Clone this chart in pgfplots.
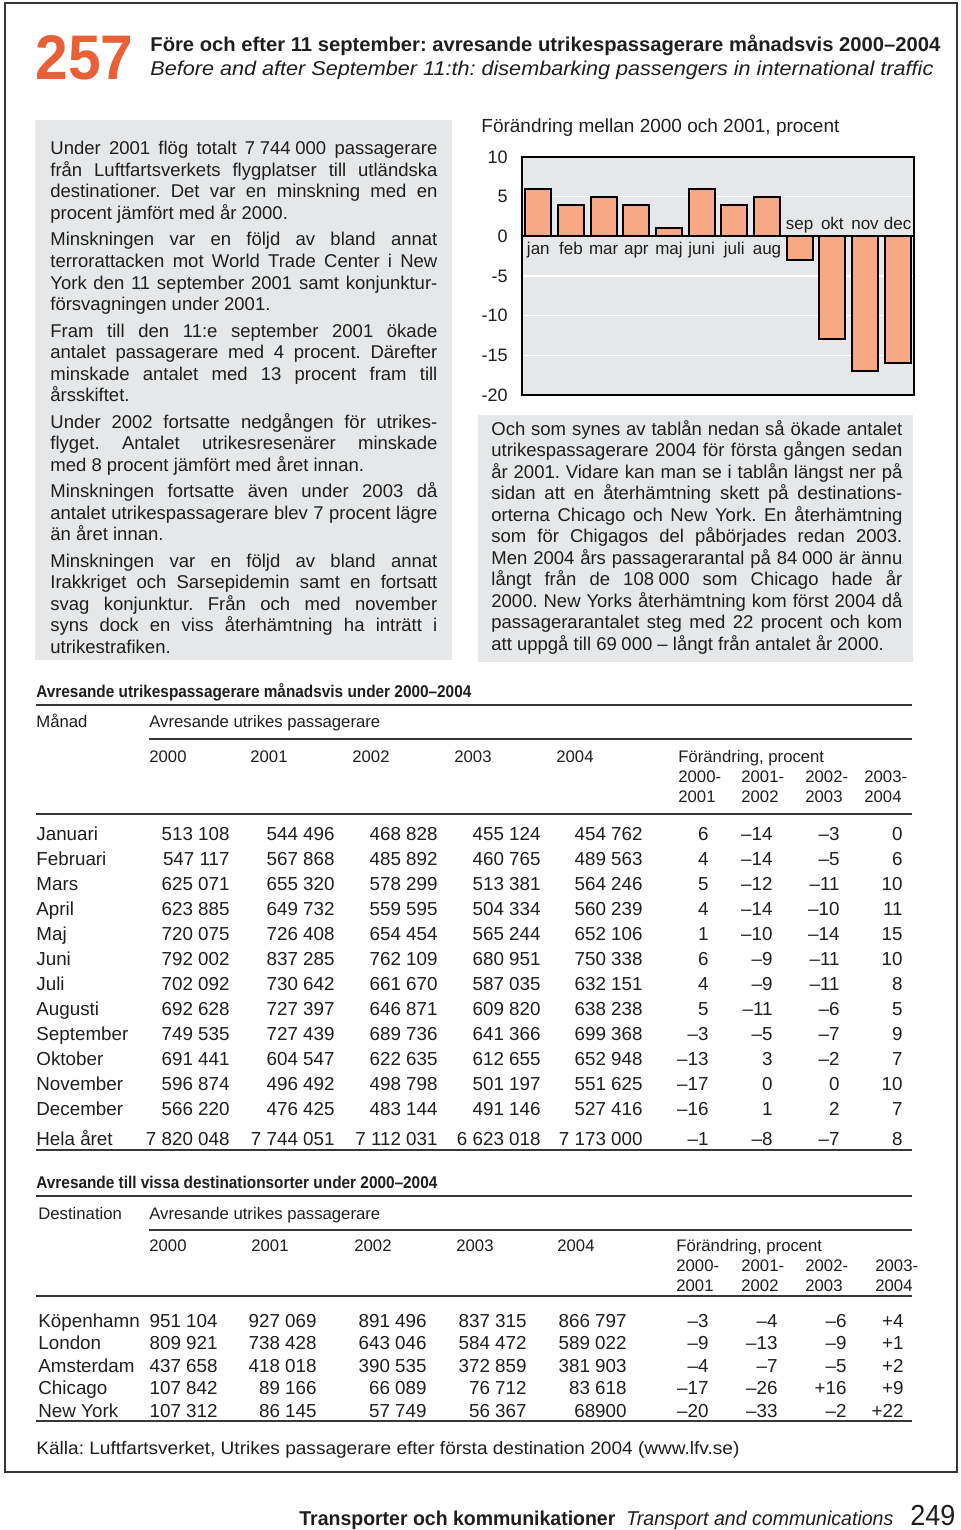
\documentclass[border=0pt]{standalone}
\usepackage{pgfplots}
\pgfplotsset{compat=1.18}
\usepackage{fontspec}
\setmainfont{Liberation Sans}
\usepackage{graphicx}
\frenchspacing
\definecolor{boxgrey}{RGB}{230,231,232}
\definecolor{salmon}{RGB}{247,169,133}
\definecolor{orng}{RGB}{232,96,56}
\definecolor{rulec}{RGB}{55,55,55}
\definecolor{txt}{RGB}{30,30,30}
\newcommand\bodyfont{\fontsize{9.25}{11}\selectfont}
\newcommand\rowfont{\fontsize{9.4}{11}\selectfont}
\newcommand\hdfont{\fontsize{8.35}{10}\selectfont}
\newcommand\monfont{\fontsize{8.5}{10}\selectfont}
\tikzset{mon/.style={anchor=base,inner sep=0pt,font=\monfont,text=txt}}
\newcommand\g{\kern.25em}
% justified line / left line
\newcommand\J[4]{\node[anchor=base west,inner sep=0pt,font=\bodyfont,text=txt] at (#1,-#2) {\makebox[#3pt][s]{#4}};}
\newcommand\Lt[3]{\node[anchor=base west,inner sep=0pt,font=\bodyfont,text=txt] at (#1,-#2) {#3};}
\newcommand\Hd[3]{\node[anchor=base west,inner sep=0pt,font=\hdfont,text=txt] at (#1,-#2) {#3};}
% table 1 rows
\newcommand\Ra[7]{%
 \node[anchor=base west,inner sep=0pt,font=\rowfont,text=txt] at (36,-#1) {#2};
 \node[anchor=base east,inner sep=0pt,font=\rowfont,text=txt] at (230,-#1) {#3};
 \node[anchor=base east,inner sep=0pt,font=\rowfont,text=txt] at (335,-#1) {#4};
 \node[anchor=base east,inner sep=0pt,font=\rowfont,text=txt] at (438,-#1) {#5};
 \node[anchor=base east,inner sep=0pt,font=\rowfont,text=txt] at (541,-#1) {#6};
 \node[anchor=base east,inner sep=0pt,font=\rowfont,text=txt] at (643,-#1) {#7};}
\newcommand\Ca[5]{%
 \node[anchor=base east,inner sep=0pt,font=\rowfont,text=txt] at (709,-#1) {#2};
 \node[anchor=base east,inner sep=0pt,font=\rowfont,text=txt] at (773,-#1) {#3};
 \node[anchor=base east,inner sep=0pt,font=\rowfont,text=txt] at (840,-#1) {#4};
 \node[anchor=base east,inner sep=0pt,font=\rowfont,text=txt] at (903,-#1) {#5};}
% table 2 rows
\newcommand\Rb[7]{%
 \node[anchor=base west,inner sep=0pt,font=\rowfont,text=txt] at (38,-#1) {#2};
 \node[anchor=base east,inner sep=0pt,font=\rowfont,text=txt] at (218,-#1) {#3};
 \node[anchor=base east,inner sep=0pt,font=\rowfont,text=txt] at (317,-#1) {#4};
 \node[anchor=base east,inner sep=0pt,font=\rowfont,text=txt] at (427,-#1) {#5};
 \node[anchor=base east,inner sep=0pt,font=\rowfont,text=txt] at (527,-#1) {#6};
 \node[anchor=base east,inner sep=0pt,font=\rowfont,text=txt] at (627,-#1) {#7};}
\newcommand\Cb[5]{%
 \node[anchor=base east,inner sep=0pt,font=\rowfont,text=txt] at (709,-#1) {#2};
 \node[anchor=base east,inner sep=0pt,font=\rowfont,text=txt] at (778,-#1) {#3};
 \node[anchor=base east,inner sep=0pt,font=\rowfont,text=txt] at (847,-#1) {#4};
 \node[anchor=base east,inner sep=0pt,font=\rowfont,text=txt] at (904,-#1) {#5};}

\begin{document}
\begin{tikzpicture}
\begin{scope}[x=0.5pt,y=0.5pt]
\useasboundingbox (0,0) rectangle (960,-1530);
\fill[boxgrey] (35,-120) rectangle (452,-660);
\fill[boxgrey] (478,-415) rectangle (913,-662);
\draw[rulec,line width=1pt] (5,-3) rectangle (957,-1472);
% header
\node[anchor=base west,inner sep=0pt,text=orng] at (35,-80) {\resizebox{49pt}{22pt}{\bfseries 257}};
\node[anchor=base west,inner sep=0pt,text=txt] at (150,-52) {\resizebox{395pt}{\height}{\fontsize{10}{12}\selectfont\bfseries Före och efter 11 september: avresande utrikespassagerare månadsvis 2000–2004}};
\node[anchor=base west,inner sep=0pt,text=txt] at (150,-76) {\resizebox{391.5pt}{\height}{\fontsize{10}{12}\selectfont\itshape Before and after September 11:th: disembarking passengers in international traffic}};
% left text
\J{50}{155}{193.5}{Under 2001 flög totalt 7\g744\g000 passagerare}
\J{50}{176.5}{193.5}{från Luftfartsverkets flygplatser till utländska}
\J{50}{198}{193.5}{destinationer. Det var en minskning med en}
\Lt{50}{219.5}{procent jämfört med år 2000.}
\J{50}{246}{193.5}{Minskningen var en följd av bland annat}
\J{50}{267.5}{193.5}{terrorattacken mot World Trade Center i New}
\J{50}{289}{193.5}{York den 11 september 2001 samt konjunktur-}
\Lt{50}{310.5}{försvagningen under 2001.}
\J{50}{337}{193.5}{Fram till den 11:e september 2001 ökade}
\J{50}{358.5}{193.5}{antalet passagerare med 4 procent. Därefter}
\J{50}{380}{193.5}{minskade antalet med 13 procent fram till}
\Lt{50}{401.5}{årsskiftet.}
\J{50}{428}{193.5}{Under 2002 fortsatte nedgången för utrikes-}
\J{50}{449.5}{193.5}{flyget. Antalet utrikesresenärer minskade}
\Lt{50}{471}{med 8 procent jämfört med året innan.}
\J{50}{497.5}{193.5}{Minskningen fortsatte även under 2003 då}
\J{50}{519}{193.5}{antalet utrikespassagerare blev 7 procent lägre}
\Lt{50}{540.5}{än året innan.}
\J{50}{567}{193.5}{Minskningen var en följd av bland annat}
\J{50}{588.5}{193.5}{Irakkriget och Sarsepidemin samt en fortsatt}
\J{50}{610}{193.5}{svag konjunktur. Från och med november}
\J{50}{631.5}{193.5}{syns dock en viss återhämtning ha inträtt i}
\Lt{50}{653}{utrikestrafiken.}
% right text
\node[anchor=base west,inner sep=0pt,font=\fontsize{9.5}{11}\selectfont,text=txt] at (481,-133) {Förändring mellan 2000 och 2001, procent};
\J{491}{435}{205.5}{Och som synes av tablån nedan så ökade antalet}
\J{491}{456.5}{205.5}{utrikespassagerare 2004 för första gången sedan}
\J{491}{478}{205.5}{år 2001. Vidare kan man se i tablån längst ner på}
\J{491}{499.5}{205.5}{sidan att en återhämtning skett på destinations-}
\J{491}{521}{205.5}{orterna Chicago och New York. En återhämtning}
\J{491}{542.5}{205.5}{som för Chigagos del påbörjades redan 2003.}
\J{491}{564}{205.5}{Men 2004 års passagerarantal på 84\g000 är ännu}
\J{491}{585.5}{205.5}{långt från de 108\g000 som Chicago hade år}
\J{491}{607}{205.5}{2000. New Yorks återhämtning kom först 2004 då}
\J{491}{628.5}{205.5}{passagerarantalet steg med 22 procent och kom}
\Lt{491}{650}{att uppgå till 69\g000 – långt från antalet år 2000.}
% table 1
\node[anchor=base west,inner sep=0pt,text=txt] at (36,-697) {\resizebox{217.5pt}{\height}{\fontsize{8.5}{10}\selectfont\bfseries Avresande utrikespassagerare månadsvis under 2000–2004}};
\draw[rulec,line width=0.75pt] (36,-705) -- (912,-705);
\Hd{36}{727}{Månad}
\Hd{149}{727}{Avresande utrikes passagerare}
\draw[rulec,line width=0.75pt] (149,-739) -- (912,-739);
\Hd{149}{762}{2000}\Hd{250}{762}{2001}\Hd{352}{762}{2002}\Hd{454}{762}{2003}\Hd{556}{762}{2004}
\Hd{678}{762}{Förändring, procent}
\Hd{678}{782}{2000-}\Hd{741}{782}{2001-}\Hd{805}{782}{2002-}\Hd{864}{782}{2003-}
\Hd{678}{802}{2001}\Hd{741}{802}{2002}\Hd{805}{802}{2003}\Hd{864}{802}{2004}
\draw[rulec,line width=0.75pt] (36,-814) -- (912,-814);
\Ra{840}{Januari}{513 108}{544 496}{468 828}{455 124}{454 762}\Ca{840}{6}{–14}{–3}{0}
\Ra{865}{Februari}{547 117}{567 868}{485 892}{460 765}{489 563}\Ca{865}{4}{–14}{–5}{6}
\Ra{890}{Mars}{625 071}{655 320}{578 299}{513 381}{564 246}\Ca{890}{5}{–12}{–11}{10}
\Ra{915}{April}{623 885}{649 732}{559 595}{504 334}{560 239}\Ca{915}{4}{–14}{–10}{11}
\Ra{940}{Maj}{720 075}{726 408}{654 454}{565 244}{652 106}\Ca{940}{1}{–10}{–14}{15}
\Ra{965}{Juni}{792 002}{837 285}{762 109}{680 951}{750 338}\Ca{965}{6}{–9}{–11}{10}
\Ra{990}{Juli}{702 092}{730 642}{661 670}{587 035}{632 151}\Ca{990}{4}{–9}{–11}{8}
\Ra{1015}{Augusti}{692 628}{727 397}{646 871}{609 820}{638 238}\Ca{1015}{5}{–11}{–6}{5}
\Ra{1040}{September}{749 535}{727 439}{689 736}{641 366}{699 368}\Ca{1040}{–3}{–5}{–7}{9}
\Ra{1065}{Oktober}{691 441}{604 547}{622 635}{612 655}{652 948}\Ca{1065}{–13}{3}{–2}{7}
\Ra{1090}{November}{596 874}{496 492}{498 798}{501 197}{551 625}\Ca{1090}{–17}{0}{0}{10}
\Ra{1115}{December}{566 220}{476 425}{483 144}{491 146}{527 416}\Ca{1115}{–16}{1}{2}{7}
\Ra{1145}{Hela året}{7 820 048}{7 744 051}{7 112 031}{6 623 018}{7 173 000}\Ca{1145}{–1}{–8}{–7}{8}
\draw[rulec,line width=0.75pt] (36,-1150) -- (912,-1150);
% table 2
\node[anchor=base west,inner sep=0pt,text=txt] at (36,-1188) {\resizebox{200.5pt}{\height}{\fontsize{8.5}{10}\selectfont\bfseries Avresande till vissa destinationsorter under 2000–2004}};
\draw[rulec,line width=0.75pt] (36,-1196) -- (912,-1196);
\Hd{38}{1219}{Destination}
\Hd{149}{1219}{Avresande utrikes passagerare}
\draw[rulec,line width=0.75pt] (149,-1230) -- (912,-1230);
\Hd{149}{1251}{2000}\Hd{251}{1251}{2001}\Hd{354}{1251}{2002}\Hd{456}{1251}{2003}\Hd{557}{1251}{2004}
\Hd{676}{1251}{Förändring, procent}
\Hd{676}{1271}{2000-}\Hd{741}{1271}{2001-}\Hd{805}{1271}{2002-}\Hd{875}{1271}{2003-}
\Hd{676}{1291}{2001}\Hd{741}{1291}{2002}\Hd{805}{1291}{2003}\Hd{875}{1291}{2004}
\draw[rulec,line width=0.75pt] (36,-1296) -- (912,-1296);
\Rb{1327}{Köpenhamn}{951 104}{927 069}{891 496}{837 315}{866 797}\Cb{1327}{–3}{–4}{–6}{+4}
\Rb{1349.5}{London}{809 921}{738 428}{643 046}{584 472}{589 022}\Cb{1349.5}{–9}{–13}{–9}{+1}
\Rb{1372}{Amsterdam}{437 658}{418 018}{390 535}{372 859}{381 903}\Cb{1372}{–4}{–7}{–5}{+2}
\Rb{1394.5}{Chicago}{107 842}{89 166}{66 089}{76 712}{83 618}\Cb{1394.5}{–17}{–26}{+16}{+9}
\Rb{1417}{New York}{107 312}{86 145}{57 749}{56 367}{68900}\Cb{1417}{–20}{–33}{–2}{+22}
\draw[rulec,line width=0.75pt] (36,-1421) -- (912,-1421);
\node[anchor=base west,inner sep=0pt,text=txt] at (36,-1454) {\resizebox{351.5pt}{\height}{\fontsize{9}{11}\selectfont Källa: Luftfartsverket, Utrikes passagerare efter första destination 2004 (www.lfv.se)}};
% footer
\node[anchor=base west,inner sep=0pt,text=txt] at (299,-1525) {\resizebox{158pt}{\height}{\fontsize{10}{12}\selectfont\bfseries Transporter och kommunikationer}};
\node[anchor=base west,inner sep=0pt,text=txt] at (626,-1525) {\resizebox{133.5pt}{\height}{\fontsize{10}{12}\selectfont\itshape Transport and communications}};
\node[anchor=base west,inner sep=0pt,text=txt] at (910,-1525) {\resizebox{22.5pt}{\height}{\fontsize{14.5}{17}\selectfont 249}};
\end{scope}
\begin{axis}[
  at={(261pt,-197.5pt)}, anchor=south west,
  width=196pt, height=119pt, scale only axis,
  xmin=-0.5, xmax=11.5, ymin=-20, ymax=10,
  axis background/.style={fill=boxgrey},
  axis line style={line width=1pt, black},
  ytick={-20,-15,-10,-5,0,5,10},
  yticklabels={-20,-15,-10,-5,0,5,10},
  yticklabel style={font=\fontsize{9}{10}\selectfont, text=txt, inner sep=0pt, xshift=-7pt},
  xtick=\empty,
  major tick length=0pt,
  ymajorgrids, grid style={white, line width=0.75pt},
  ybar, bar width=13pt,
  clip=false,
]
\addplot[fill=salmon, draw=black, line width=1pt] coordinates {
 (0,6) (1,4) (2,5) (3,4) (4,1) (5,6) (6,4) (7,5) (8,-3) (9,-13) (10,-17) (11,-16)};
\draw[line width=1pt] (axis cs:-0.5,0) -- (axis cs:11.5,0);
\node[mon] at (axis cs:0,-2.27) {jan};
\node[mon] at (axis cs:1,-2.27) {feb};
\node[mon] at (axis cs:2,-2.27) {mar};
\node[mon] at (axis cs:3,-2.27) {apr};
\node[mon] at (axis cs:4,-2.27) {maj};
\node[mon] at (axis cs:5,-2.27) {juni};
\node[mon] at (axis cs:6,-2.27) {juli};
\node[mon] at (axis cs:7,-2.27) {aug};
\node[mon] at (axis cs:8,0.88) {sep};
\node[mon] at (axis cs:9,0.88) {okt};
\node[mon] at (axis cs:10,0.88) {nov};
\node[mon] at (axis cs:11,0.88) {dec};
\end{axis}
\end{tikzpicture}
\end{document}
